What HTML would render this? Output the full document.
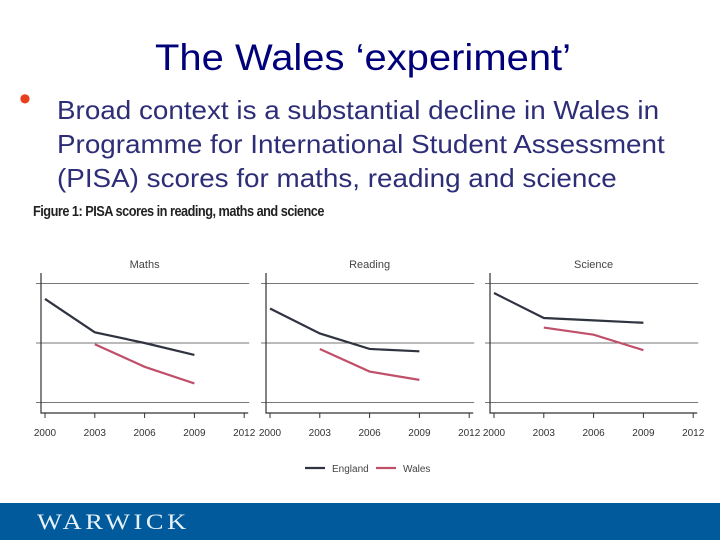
<!DOCTYPE html>
<html><head><meta charset="utf-8"><style>
body{margin:0;width:720px;height:540px;overflow:hidden;background:#fff;font-family:"Liberation Sans",sans-serif;position:relative}
.t{position:absolute;white-space:nowrap}
</style></head><body>
<div class="t" style="left:155px;top:37px;font-size:37px;color:#00007a;transform:scaleX(1.08);transform-origin:left">The Wales ‘experiment’</div>
<div class="t" style="left:19px;top:80px;font-size:34px;color:#e8401c">•</div>
<div class="t" style="left:57px;top:93px;font-size:26px;line-height:34px;color:#2e2e78;transform:scaleX(1.07);transform-origin:left">Broad context is a substantial decline in Wales in<br>Programme for International Student Assessment<br>(PISA) scores for maths, reading and science</div>
<div class="t" style="left:33px;top:203px;font-size:15px;font-weight:bold;color:#222;letter-spacing:-0.6px;transform:scaleX(0.85);transform-origin:left">Figure 1: PISA scores in reading, maths and science</div>
<svg id="chart" width="720" height="540" style="position:absolute;left:0;top:0"></svg>
<div style="position:absolute;left:0;top:503px;width:720px;height:37px;background:#005a9b"></div>
<div class="t" style="left:37px;top:509px;font-family:'Liberation Serif',serif;font-size:22px;letter-spacing:3px;color:#e8f2f8;transform:scaleX(1.2);transform-origin:left">WARWICK</div>
<script>
const years=[2000,2003,2006,2009,2012];
const subjects=["Maths","Reading","Science"];
const englandMaths=[537,509,500,490];
const walesMaths=[null,499,480,466];
const englandReading=[529,508,495,493];
const walesReading=[null,495,476,469];
const englandScience=[542,521,519,517];
const walesScience=[null,513,507,494];
const gridValues=[450,500,550];
const series=[[englandMaths,walesMaths],[englandReading,walesReading],[englandScience,walesScience]];
const panelX0=[45,270,494];
const svg=document.getElementById('chart');
const NS='http://www.w3.org/2000/svg';
function mk(tag,attrs){const e=document.createElementNS(NS,tag);for(const k in attrs)e.setAttribute(k,attrs[k]);svg.appendChild(e);return e;}
function y(v){return 343-(v-500)*1.19;}
subjects.forEach((s,i)=>{
  const x0=panelX0[i];
  const x=yr=>x0+(yr-2000)*16.6;
  const t=mk('text',{x:x(2006),y:268,'font-size':11,'text-anchor':'middle',fill:'#444','font-family':'Liberation Sans,sans-serif'});
  
  
  t.textContent=s;
  gridValues.forEach(g=>{const l=mk('line',{x1:x0-9,x2:x(2012)+5,y1:y(g),y2:y(g),stroke:'#777','stroke-width':1});
    });
  const ax=mk('path',{d:`M${x0-4},273 V413 H${x(2012)+4}`,stroke:'#333','stroke-width':1.2,fill:'none'});
  
  years.forEach(yr=>{mk('line',{x1:x(yr),x2:x(yr),y1:413,y2:418,stroke:'#333'});
    const tl=mk('text',{x:x(yr),y:436,'font-size':10,'text-anchor':'middle',fill:'#333','font-family':'Liberation Sans,sans-serif'});
    tl.textContent=yr;});
  const cols=['#2f3440','#c0506a'];
  series[i].forEach((arr,j)=>{
    const pts=arr.map((v,k)=>v==null?null:x(years[k])+','+y(v)).filter(p=>p);
    const pl=mk('polyline',{points:pts.join(' '),fill:'none',stroke:cols[j],'stroke-width':2.2});
    
    
  });
});
[['England','#2f3440',305],['Wales','#c0506a',376]].forEach(([n,c,lx])=>{
  const l=mk('line',{x1:lx,x2:lx+20,y1:468,y2:468,stroke:c,'stroke-width':2.2});
  
  const t=mk('text',{x:lx+27,y:472,'font-size':10,fill:'#444','font-family':'Liberation Sans,sans-serif'});
  
  t.textContent=n;
});
</script>
</body></html>
